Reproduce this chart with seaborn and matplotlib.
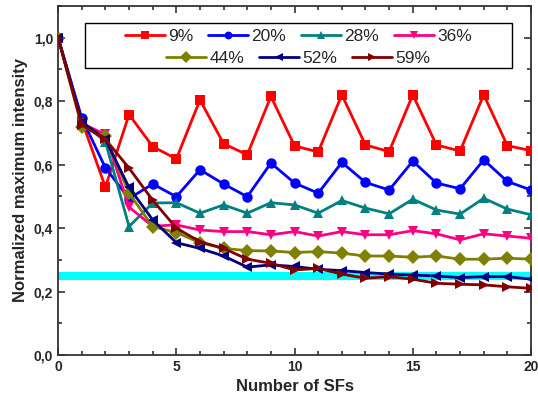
import numpy as np
import pandas as pd
import matplotlib
matplotlib.use("Agg")
import matplotlib.pyplot as plt
import seaborn as sns
from matplotlib.ticker import MultipleLocator, FuncFormatter
from matplotlib.patches import Rectangle

sfs = list(range(21))
labels = ["9%", "20%", "28%", "36%", "44%", "52%", "59%"]
s09 = [1.0, 0.739, 0.529, 0.758, 0.657, 0.618, 0.804, 0.666, 0.631, 0.815, 0.659,
       0.640, 0.820, 0.662, 0.641, 0.820, 0.662, 0.643, 0.820, 0.660, 0.644]
s20 = [1.0, 0.747, 0.590, 0.493, 0.539, 0.499, 0.584, 0.539, 0.499, 0.605, 0.542,
       0.510, 0.607, 0.544, 0.520, 0.611, 0.542, 0.524, 0.615, 0.547, 0.520]
s28 = [1.0, 0.735, 0.672, 0.405, 0.479, 0.480, 0.447, 0.473, 0.447, 0.480, 0.473,
       0.447, 0.487, 0.463, 0.445, 0.491, 0.457, 0.444, 0.494, 0.460, 0.442]
s36 = [1.0, 0.730, 0.695, 0.466, 0.406, 0.410, 0.394, 0.389, 0.389, 0.379, 0.389,
       0.375, 0.389, 0.379, 0.379, 0.392, 0.382, 0.363, 0.382, 0.375, 0.368]
s44 = [1.0, 0.720, 0.689, 0.510, 0.405, 0.386, 0.354, 0.336, 0.329, 0.328, 0.323,
       0.326, 0.321, 0.312, 0.312, 0.308, 0.312, 0.302, 0.302, 0.305, 0.302]
s52 = [1.0, 0.735, 0.680, 0.528, 0.426, 0.354, 0.336, 0.312, 0.277, 0.284, 0.279,
       0.270, 0.266, 0.260, 0.255, 0.252, 0.249, 0.244, 0.247, 0.247, 0.239]
s59 = [1.0, 0.725, 0.680, 0.589, 0.488, 0.400, 0.357, 0.336, 0.302, 0.289, 0.268,
       0.273, 0.255, 0.242, 0.247, 0.239, 0.226, 0.223, 0.221, 0.215, 0.210]
band_low, band_high = 0.237, 0.262

series = [s09, s20, s28, s36, s44, s52, s59]
colors = ["#FF0000", "#0000FF", "#008080", "#FF0080", "#808000", "#000080", "#800000"]
markers = ["s", "o", "^", "v", "D", "<", ">"]

df = pd.DataFrame({
    "x": sfs * len(series),
    "y": sum(series, []),
    "label": sum([[l] * len(sfs) for l in labels], []),
})

sns.set_theme(style="ticks")
plt.rcParams["font.family"] = ["Liberation Sans", "DejaVu Sans"]

fig = plt.figure(figsize=(5.38, 4.0), dpi=100)
ax = fig.add_axes([0.108, 0.1125, 0.879, 0.8725])

ax.axhspan(band_low, band_high, color="#00FFFF", lw=0, zorder=1)

sns.lineplot(data=df, x="x", y="y", hue="label", style="label",
             palette=dict(zip(labels, colors)),
             markers=dict(zip(labels, markers)),
             dashes=False, hue_order=labels, style_order=labels,
             linewidth=2, markersize=7.5, markeredgewidth=0, ax=ax, zorder=3,
             legend=True)

ax.set_xlim(0, 20)
ax.set_ylim(0, 1.1)
ax.xaxis.set_major_locator(MultipleLocator(5))
ax.xaxis.set_minor_locator(MultipleLocator(1))
ax.yaxis.set_major_locator(MultipleLocator(0.2))
ax.yaxis.set_minor_locator(MultipleLocator(0.1))
ax.yaxis.set_major_formatter(FuncFormatter(lambda v, p: f"{v:.1f}".replace(".", ",")))
ax.tick_params(which="both", direction="in", top=True, right=True, width=1.2, color="#333333")
ax.tick_params(which="major", length=5, labelsize=10)
ax.tick_params(which="minor", length=3)
for t in ax.get_xticklabels() + ax.get_yticklabels():
    t.set_fontweight("bold")
for sp in ax.spines.values():
    sp.set_linewidth(1.3)
    sp.set_color("#333333")

ax.set_xlabel("Number of SFs", fontsize=12, fontweight="bold")
ax.set_ylabel("Normalized maximum intensity", fontsize=12, fontweight="bold")

handles, labs = ax.get_legend_handles_labels()
hmap = dict(zip(labs, handles))
ax.get_legend().remove() if ax.get_legend() else None

frame = Rectangle((0.057, 0.822), 0.903, 0.129, transform=ax.transAxes,
                  facecolor="white", edgecolor="black", lw=1.0, zorder=4.5)
ax.add_patch(frame)

common = dict(loc="center", fontsize=12.5, frameon=False, handlelength=2.3,
              columnspacing=0.85, handletextpad=0.2, borderpad=0.0, markerscale=0.75)
row1 = ["9%", "20%", "28%", "36%"]
row2 = ["44%", "52%", "59%"]
leg1 = ax.legend([hmap[l] for l in row1], row1, ncol=4,
                 bbox_to_anchor=(0.508, 0.914), **common)
leg1.set_zorder(6)
ax.add_artist(leg1)
leg2 = ax.legend([hmap[l] for l in row2], row2, ncol=3,
                 bbox_to_anchor=(0.508, 0.851), **common)
leg2.set_zorder(6)

fig.savefig("out.png", dpi=100)
